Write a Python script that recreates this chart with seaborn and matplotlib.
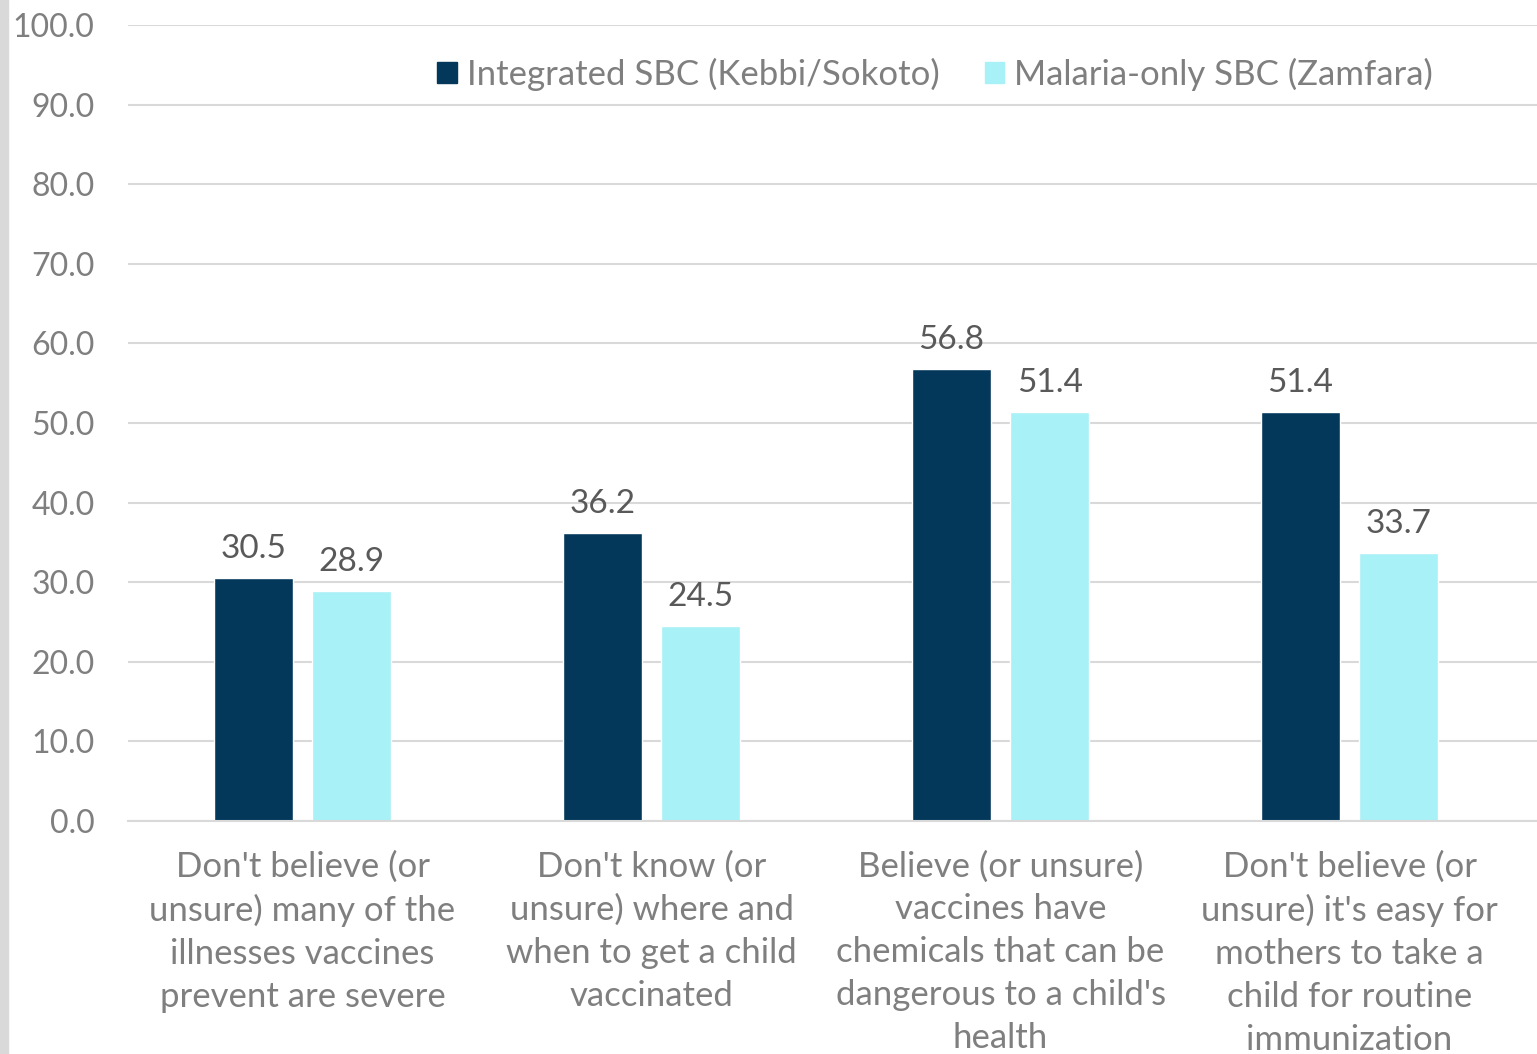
import pandas as pd
import matplotlib.pyplot as plt
import matplotlib.patches as mpatches
import seaborn as sns

# Data
categories = [
    "Don't believe (or\nunsure) many of the\nillnesses vaccines\nprevent are severe",
    "Don't know (or\nunsure) where and\nwhen to get a child\nvaccinated",
    "Believe (or unsure)\nvaccines have\nchemicals that can be\ndangerous to a child's\nhealth",
    "Don't believe (or\nunsure) it's easy for\nmothers to take a\nchild for routine\nimmunization",
]
integrated = [30.5, 36.2, 56.8, 51.4]
malaria_only = [28.9, 24.5, 51.4, 33.7]
series_names = ["Integrated SBC (Kebbi/Sokoto)", "Malaria-only SBC (Zamfara)"]
y_ticks = [0, 10, 20, 30, 40, 50, 60, 70, 80, 90, 100]

df = pd.DataFrame({
    "Category": categories * 2,
    "Value": integrated + malaria_only,
    "Series": [series_names[0]] * 4 + [series_names[1]] * 4,
})

sns.set_theme(style="white")
plt.rcParams["font.family"] = ["Lato", "DejaVu Sans"]
text_gray = "#7f7f7f"
palette = {series_names[0]: "#03385A", series_names[1]: "#A8F1F7"}

fig = plt.figure(figsize=(15.37, 10.54), dpi=100)
ax = fig.add_axes([0.0833, 0.221, 0.9167, 0.7553])

sns.barplot(data=df, x="Category", y="Value", hue="Series", palette=palette,
            width=0.5625, gap=0.2, ax=ax, legend=False, saturation=1)

for container in ax.containers:
    ax.bar_label(container, fmt="%.1f", padding=10, fontsize=24, color="#595959")

ax.set_ylim(0, 100)
ax.set_xlim(-0.5, 3.537)
ax.set_yticks(y_ticks)
ax.set_yticklabels([f"{t:.1f}" for t in y_ticks])
ax.yaxis.grid(True, color="#d9d9d9", linewidth=1.5)
ax.set_axisbelow(True)
for side in ["left", "right", "top"]:
    ax.spines[side].set_visible(False)
ax.spines["bottom"].set_color("#d9d9d9")
ax.spines["bottom"].set_linewidth(1.5)
ax.tick_params(axis="y", length=0, pad=24, labelsize=23, labelcolor=text_gray)
ax.tick_params(axis="x", length=0, pad=21, labelsize=25, labelcolor=text_gray)
for lbl in ax.get_xticklabels():
    lbl.set_linespacing(1.42)
ax.set_xlabel("")
ax.set_ylabel("")

handles = [mpatches.Patch(color=palette[s], label=s) for s in series_names]
leg = ax.legend(handles=handles, loc="center", bbox_to_anchor=(0.573, 0.938),
                ncol=2, frameon=False, fontsize=25, handlelength=0.55,
                handleheight=0.55, handletextpad=0.3, columnspacing=1.3)
for t in leg.get_texts():
    t.set_color(text_gray)

# gray strip on the left edge of the screenshot
fig.patches.append(mpatches.Rectangle((0, 0), 8 / 1537, 1, transform=fig.transFigure,
                                      color="#d9d9d9", zorder=0))

fig.savefig("out.png", dpi=100)
